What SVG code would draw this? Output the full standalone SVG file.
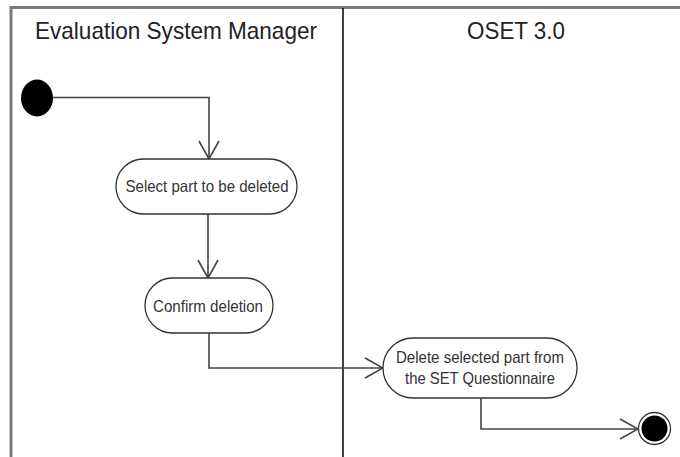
<svg xmlns="http://www.w3.org/2000/svg" width="680" height="457" viewBox="0 0 680 457">
<style>
.frame{stroke:#7a7a7a;stroke-width:3;fill:none}
.lane{stroke:#000;stroke-width:1.5}
.title{font-family:"Liberation Sans",Arial,sans-serif;font-size:24px;fill:#222;text-anchor:middle}
.act{fill:#fff;stroke:#333;stroke-width:1.3}
.lbl{font-family:"Liberation Sans",Arial,sans-serif;font-size:16.5px;fill:#333;text-anchor:middle}
.edge{fill:none;stroke:#444;stroke-width:1.6;marker-end:url(#open)}
</style>
<defs>
<marker id="open" viewBox="0 0 20 22" refX="19" refY="11" markerWidth="20" markerHeight="22" markerUnits="userSpaceOnUse" orient="auto">
<path d="M1,1 L19,11 L1,21" fill="none" stroke="#444" stroke-width="1.6"/>
</marker>
</defs>
<rect width="680" height="457" fill="#fff"/>
<g id="frame">
<path class="frame" d="M11,457 V7.5 H680"/>
<line class="lane" x1="343" y1="8" x2="343" y2="457"/>
<text class="title" x="176" y="38.5" textLength="282" lengthAdjust="spacingAndGlyphs">Evaluation System Manager</text>
<text class="title" x="516" y="38.5" textLength="98" lengthAdjust="spacingAndGlyphs">OSET 3.0</text>
</g>
<g id="connectors">
<path class="edge" d="M53,97.5 H209 V159"/>
<path class="edge" d="M208,214 V278"/>
<path class="edge" d="M209,333 V368 H383"/>
<path class="edge" d="M481,398 V429 H638"/>
</g>
<g id="start">
<ellipse cx="37" cy="98" rx="16" ry="18.5" fill="#000"/>
</g>
<g id="select">
<rect class="act" x="116" y="159" width="181" height="55" rx="27.5"/>
<text class="lbl" x="207" y="192" textLength="163" lengthAdjust="spacingAndGlyphs">Select part to be deleted</text>
</g>
<g id="confirm">
<rect class="act" x="145" y="278" width="128" height="55" rx="27.5"/>
<text class="lbl" x="208" y="311.5" textLength="110" lengthAdjust="spacingAndGlyphs">Confirm deletion</text>
</g>
<g id="delete">
<rect class="act" x="383" y="338" width="194" height="60" rx="30"/>
<text class="lbl" x="480" y="362.5" textLength="168" lengthAdjust="spacingAndGlyphs">Delete selected part from</text>
<text class="lbl" x="480" y="384" textLength="150" lengthAdjust="spacingAndGlyphs">the SET Questionnaire</text>
</g>
<g id="end">
<circle cx="654.5" cy="428.5" r="16" fill="#fff" stroke="#333" stroke-width="1.3"/>
<circle cx="654.5" cy="428.5" r="13" fill="#000"/>
</g>
</svg>
